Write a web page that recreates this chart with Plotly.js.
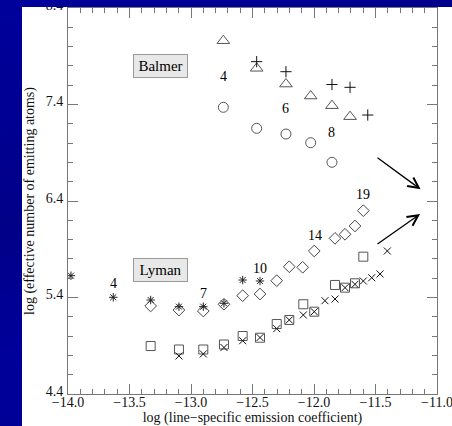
<!DOCTYPE html>
<html>
<head>
<meta charset="utf-8">
<script src="https://cdn.plot.ly/plotly-3.0.1.min.js"></script>
<style>
html,body{margin:0;padding:0;width:452px;height:426px;overflow:hidden;
background:linear-gradient(160deg,#00009c 0%,#000088 40%,#00009a 60%,#000090 100%);}
#chart{position:absolute;left:22px;top:7px;width:430px;height:419px;background:#fff;overflow:hidden;}
</style>
</head>
<body>
<div id="chart"></div>
<script>
// Balmer series
const balmerTriX = [-12.737, -12.466, -12.228, -12.027, -11.854, -11.707];
const balmerTriY = [8.061, 7.775, 7.612, 7.488, 7.388, 7.274];
const balmerPlusX = [-12.466, -12.228, -11.854, -11.707, -11.563];
const balmerPlusY = [7.844, 7.740, 7.607, 7.578, 7.291];
const balmerCircX = [-12.737, -12.466, -12.228, -12.027, -11.854];
const balmerCircY = [7.371, 7.153, 7.094, 7.004, 6.801];

// Lyman series
const lymanStarX = [-13.976, -13.632, -13.328, -13.098, -12.900, -12.732, -12.580, -12.439];
const lymanStarY = [5.626, 5.402, 5.374, 5.305, 5.305, 5.340, 5.581, 5.571];
const lymanDiaX = [-13.328, -13.098, -12.900, -12.732, -12.580, -12.439, -12.303, -12.201, -12.092, -11.998, -11.829, -11.748, -11.667, -11.599];
const lymanDiaY = [5.312, 5.270, 5.260, 5.330, 5.419, 5.436, 5.574, 5.719, 5.713, 5.882, 6.013, 6.055, 6.141, 6.300];
const lymanSqX = [-13.328, -13.098, -12.900, -12.732, -12.580, -12.439, -12.303, -12.201, -12.087, -11.998, -11.829, -11.748, -11.667, -11.599];
const lymanSqY = [4.897, 4.861, 4.861, 4.913, 5.001, 4.983, 5.125, 5.167, 5.330, 5.253, 5.530, 5.502, 5.547, 5.823];
const lymanXX = [-13.098, -12.900, -12.732, -12.580, -12.439, -12.303, -12.201, -12.087, -11.998, -11.911, -11.829, -11.748, -11.667, -11.599, -11.531, -11.463, -11.404];
const lymanXY = [4.794, 4.815, 4.882, 4.952, 4.985, 5.077, 5.167, 5.219, 5.253, 5.367, 5.384, 5.502, 5.537, 5.571, 5.605, 5.644, 5.882];

// level labels
const labelText = ["4", "6", "8", "4", "7", "10", "14", "19"];
const labelX = [-12.737, -12.228, -11.856, -13.632, -12.900, -12.439, -11.992, -11.599];
const labelY = [7.695, 7.361, 7.108, 5.540, 5.443, 5.703, 6.040, 6.469];

// series boxes
const boxText = ["Balmer", "Lyman"];
const boxX = [-13.252, -13.252];
const boxY = [7.801, 5.690];

// arrows
const arrowTailX = [-11.496, -11.496];
const arrowTailY = [6.859, 5.944];
const arrowHeadX = [-11.133, -11.138];
const arrowHeadY = [6.521, 6.265];

const serif = "Liberation Serif, Times New Roman, serif";
const gray = "#777";

function mk(x, y, symbol, size, color) {
  return {x: x, y: y, type: "scatter", mode: "markers", hoverinfo: "skip",
    marker: {symbol: symbol, size: size, color: color, line: {color: color, width: 1}}};
}

const data = [
  mk(balmerTriX, balmerTriY, "triangle-up-open", 11, "#555"),
  mk(balmerPlusX, balmerPlusY, "cross-thin-open", 8, "#111"),
  mk(balmerCircX, balmerCircY, "circle-open", 10, "#555"),
  mk(lymanDiaX, lymanDiaY, "diamond-open", 9, "#444"),
  mk(lymanStarX, lymanStarY, "asterisk-open", 7, "#222"),
  mk(lymanSqX, lymanSqY, "square-open", 9, "#555"),
  mk(lymanXX, lymanXY, "x-thin-open", 7, "#111"),
  {x: [-12.5], y: [6.4], xaxis: "x2", yaxis: "y2", type: "scatter", mode: "markers",
   marker: {opacity: 0}, hoverinfo: "skip"}
];

const annotations = [];
labelText.forEach((t, i) => annotations.push({
  x: labelX[i], y: labelY[i], xref: "x", yref: "y", text: t, showarrow: false,
  font: {family: serif, size: 14, color: "#000"}
}));
boxText.forEach((t, i) => annotations.push({
  x: boxX[i], y: boxY[i], xref: "x", yref: "y", text: t, showarrow: false,
  font: {family: serif, size: 15, color: "#000"},
  bgcolor: "#e8e8e8", bordercolor: "#999", borderwidth: 1, borderpad: 3, width: 47
}));
arrowTailX.forEach((tx, i) => annotations.push({
  x: arrowHeadX[i], y: arrowHeadY[i], ax: tx, ay: arrowTailY[i],
  xref: "x", yref: "y", axref: "x", ayref: "y", text: "", showarrow: true,
  arrowhead: 5, arrowsize: 1.6, arrowwidth: 1.3, arrowcolor: "#000"
}));

const axisCommon = {
  showline: true, linecolor: gray, linewidth: 1,
  ticks: "inside", ticklen: 10, tickcolor: gray, tickwidth: 1,
  showgrid: false, zeroline: false,
  tickfont: {family: serif, size: 14, color: "#111"},
  tickformat: ".1f", ticklabeloverflow: "allow"
};
const xr = [-14, -11], yr = [4.4, 8.4];
const xMinor = {dtick: 0.1, ticklen: 5, tickcolor: gray, ticks: "inside"};
const yMinor = {dtick: 0.2, ticklen: 5, tickcolor: gray, ticks: "inside"};

const layout = {
  width: 430, height: 419,
  margin: {l: 46, r: 15, t: 1, b: 32},
  paper_bgcolor: "#fff", plot_bgcolor: "#fff",
  showlegend: false,
  xaxis: Object.assign({}, axisCommon, {
    range: xr, tick0: -14, dtick: 0.5, minor: xMinor, ticklabelstandoff: -5,
    title: {text: "log (line\u2212specific emission coefficient)", font: {family: serif, size: 14, color: "#111"}, standoff: 2}
  }),
  yaxis: Object.assign({}, axisCommon, {
    range: yr, tick0: 4.4, dtick: 1, minor: yMinor, ticklabelstandoff: 1, ticklabelshift: -3,
    title: {text: "log (effective number of emitting atoms)", font: {family: serif, size: 14, color: "#111"}, standoff: 9}
  }),
  xaxis2: Object.assign({}, axisCommon, {
    range: xr, tick0: -14, dtick: 0.5, minor: xMinor, overlaying: "x", side: "top", showticklabels: false
  }),
  yaxis2: Object.assign({}, axisCommon, {
    range: yr, tick0: 4.4, dtick: 1, minor: yMinor, overlaying: "y", side: "right", showticklabels: false
  }),
  annotations: annotations
};

Plotly.newPlot("chart", data, layout, {displayModeBar: false, staticPlot: true});
</script>
</body>
</html>
